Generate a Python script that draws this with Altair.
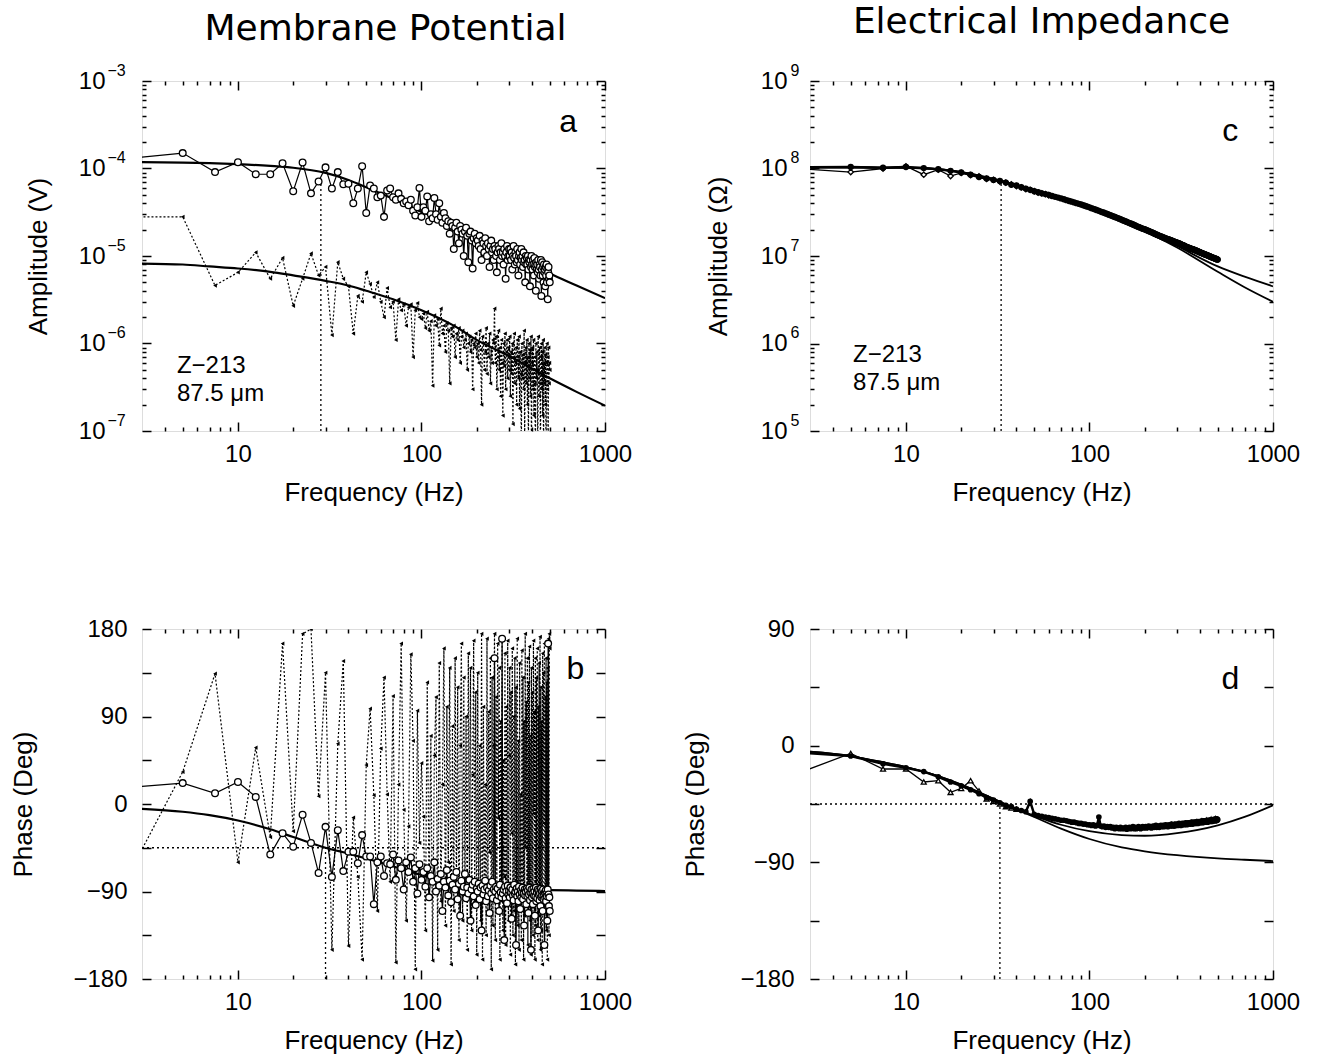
import altair as alt
import pandas as pd

FONT = "Liberation Sans"
TITLE_FONT = "DejaVu Sans"
W, H = 463, 350

# ---------------- data ----------------
freq = [2.5 * k for k in range(1, 201)]

amp_v_upper_uV = [
    130, 150, 91, 118, 86, 86, 115, 55, 117, 52,
    71, 103, 59, 91, 66, 67, 40, 59, 106, 31,
    64, 59, 47, 49, 28, 56, 59, 47, 44, 52,
    45, 40, 42, 38, 44, 33, 29, 36, 60, 28,
    36, 33, 48, 25, 30, 27, 46, 30, 26, 40,
    28, 24, 31, 27, 22, 25, 18, 24, 22, 12,
    21, 24, 19, 14, 22, 20, 18, 10, 19, 21,
    17, 8.5, 18, 19, 15, 7.2, 16, 18, 14, 16,
    15, 13, 17, 12, 9, 15, 14, 11, 16, 13,
    10, 14, 12, 7.5, 13, 15, 11, 12, 9, 13,
    12, 10, 6.5, 11, 13, 12, 9, 11, 14, 10,
    11, 8, 12, 10, 5.5, 11, 13, 9, 10, 12,
    10, 12, 9, 11, 7, 10, 13, 9.5, 8, 11,
    10, 8.5, 12, 9, 6, 10, 11, 8, 9.5, 12,
    9, 10, 7.5, 11, 8.5, 9, 5, 10, 8, 9.5,
    8, 10, 7, 9, 8.5, 4.5, 9, 7.5, 10, 8,
    7, 9, 8, 6, 9.5, 7.5, 8, 4, 8.5, 7,
    8, 6.5, 9, 7, 5.5, 8, 7.5, 6, 9, 3.5,
    7, 8.5, 6, 7.5, 5, 8, 6.5, 7, 4.5, 7.5,
    6, 8, 5, 7, 3.2, 6.5, 7.5, 5.5, 6, 5,
]

amp_v_lower_uV = [
    28, 28, 4.6, 6.5, 11, 5.5, 9.5, 2.7, 5.5, 10.7,
    6.0, 7.5, 1.25, 8.5, 5.5, 4.5, 1.3, 3.5, 3.0, 6.5,
    4.8, 3.4, 5.0, 3.0, 2.0, 4.3, 2.6, 3.0, 1.1, 3.2,
    2.4, 2.8, 1.6, 2.6, 2.8, 0.7, 2.4, 2.9, 2.0, 1.9,
    2.2, 1.5, 2.3, 1.4, 1.8, 0.33, 2.1, 1.6, 1.9, 0.95,
    2.5, 1.3, 1.6, 0.8, 1.7, 1.4, 0.35, 1.5, 1.2, 1.6,
    0.7, 1.3, 1.1, 1.5, 0.6, 1.2, 1.4, 0.9, 1.1, 1.3,
    0.5, 1.0, 1.2, 0.8, 1.1, 0.3, 1.0, 0.9, 1.3, 0.7,
    1.0, 0.6, 1.4, 0.85, 0.2, 1.2, 1.0, 0.5, 0.8, 1.5,
    0.45, 1.0, 0.7, 1.3, 0.35, 0.9, 0.6, 1.1, 1.0, 2.5,
    0.6, 1.2, 0.3, 0.7, 1.4, 0.5, 0.9, 0.25, 1.1, 0.6,
    0.15, 1.0, 0.55, 1.3, 0.3, 0.8, 1.1, 0.4, 0.9, 0.5,
    1.2, 0.25, 0.8, 0.45, 1.0, 0.12, 0.7, 1.3, 0.35, 0.6,
    0.9, 0.2, 1.1, 0.7, 0.4, 1.2, 0.18, 0.8, 0.45, 0.05,
    1.0, 0.4, 0.75, 0.3, 1.4, 0.08, 0.6, 0.9, 0.35, 1.1,
    0.2, 0.7, 0.06, 1.0, 0.4, 0.85, 0.25, 1.2, 0.04, 0.6,
    0.9, 0.3, 1.1, 0.15, 0.7, 0.35, 0.05, 1.0, 0.4, 0.8,
    0.5, 0.04, 1.2, 0.45, 0.25, 0.9, 0.35, 0.06, 0.7, 1.0,
    0.3, 0.8, 0.15, 1.1, 0.05, 0.6, 0.35, 0.9, 0.2, 0.75,
    0.03, 0.6, 1.0, 0.3, 0.7, 0.05, 0.9, 0.35, 0.6, 0.5,
]

phase_v_circ = [
    17, 21.5, 11, 22.6, 7.3, -52, -30, -44, -11, -40,
    -71, -23.5, -75, -27, -69, -49, -49, -61, -32, -54,
    -54, -103, -60, -54, -74, -61, -62, -52, -78, -58,
    -66, -88, -60, -70, -55, -80, -66, -92, -62, -78,
    -70, -85, -66, -96, -74, -80, -60, -90, -77, -84,
    -72, -110, -80, -86, -68, -94, -79, -101, -83, -75,
    -88, -70, -98, -82, -115, -79, -90, -85, -72, -97,
    -86, -92, -78, -120, -88, -83, -95, -80, -104, -87,
    -90, -82, -98, -86, -130, -84, -93, -88, -79, -100,
    -86, -95, -89, -112, -84, -92, -80, -97, -88, 150,
    -90, -85, -99, -87, -94, -110, -83, -91, -96, 170,
    -92, -88, -140, -85, -97, -90, -102, -84, -93, -89,
    -96, -86, -91, -118, -88, -94, -99, -83, -92, -90,
    -145, -87, -95, -90, -100, -85, -93, -108, -89, -96,
    -91, -86, -98, -92, -125, -88, -94, -90, -103, -87,
    -95, -89, -112, -93, -86, -99, -91, -150, -88, -96,
    -92, -103, -87, -94, -90, -115, -95, -86, -100, -91,
    -97, -88, -130, -93, -89, -99, -92, -105, -87, -96,
    -90, -94, -110, -88, -98, -93, -145, -91, -97, -89,
    -100, -92, -95, -120, -88, 165, -93, -105, -96, -110,
]

phase_v_tri = [
    -75, 33, 134, -60, 58, -34, 165, -28, 175, 180,
    8, 135, -150, 62, 147, -146, -14, -75, -160, 40,
    98, 9, -110, 57, 130, 10, -80, 111, -163, 20,
    165, -6, -120, -23, 154, 65, -170, 96, -40, 42,
    -13, -130, 125, -95, 70, -161, 50, 110, -150, 145,
    -100, 20, 160, -125, 100, -60, 140, -165, 80, -110,
    150, -90, 120, -140, 60, 165, -120, 130, -95, 90,
    -150, 155, -80, 140, -130, 30, 168, -100, 115, -155,
    135, -85, 60, -120, 175, -160, 100, -95, 20, -135,
    170, -110, 95, -50, 150, -170, 130, -125, 60, 175,
    -140, 110, -90, 165, -15, 140, -160, 85, -100, 172,
    -130, 45, -75, 155, -145, 100, -105, 168, -120, 50,
    140, -155, 115, -30, 160, -135, 90, -110, 150, -165,
    120, -80, 170, -125, 65, -150, 145, -100, 10, -140,
    158, -95, 130, -160, 85, -115, 175, -45, 105, -85,
    150, -145, 125, -105, 162, -120, 70, -155, 140, -95,
    115, -135, 168, -10, 95, -160, 150, -125, 130, -90,
    160, -140, 100, -115, 145, -100, 172, -150, 120, -130,
    85, -165, 155, -105, 135, -20, 165, -145, 110, -95,
    150, -130, 125, -160, 140, -110, 170, -135, 175, 160,
]

imp_amp_main_MOhm = [
    103, 104, 102, 104, 101, 98, 94, 90, 85, 80,
    77, 74, 72, 69, 65, 64, 61, 59, 57, 55,
    53.5, 52, 51, 50, 48.5, 47.5, 46.5, 45.5, 44.5, 43.5,
    42.5, 41.8, 41, 40.2, 39.5, 38.8, 38, 37.3, 36.6, 36,
    35.2, 34.6, 34.0, 33.4, 32.8, 32.2, 31.7, 31.2, 30.7, 30.2,
    29.7, 29.2, 28.8, 28.3, 27.9, 27.5, 27.1, 26.7, 26.3, 25.9,
    25.5, 25.2, 24.8, 24.5, 24.1, 23.8, 23.5, 23.2, 22.9, 22.6,
    22.3, 22.0, 21.7, 21.5, 21.2, 21.0, 20.7, 20.5, 20.3, 20.2,
    19.9, 19.7, 19.5, 19.3, 19.1, 18.9, 18.7, 18.5, 18.3, 18.1,
    17.9, 17.7, 17.5, 17.4, 17.2, 17.0, 16.9, 16.7, 16.6, 16.4,
    16.3, 16.2, 16.0, 15.9, 15.8, 15.7, 15.6, 15.5, 15.4, 15.3,
    15.2, 15.1, 14.9, 14.8, 14.7, 14.6, 14.5, 14.4, 14.3, 14.2,
    14.1, 14.0, 13.9, 13.8, 13.7, 13.6, 13.5, 13.4, 13.3, 13.2,
    13.1, 13.0, 12.9, 12.8, 12.7, 12.6, 12.55, 12.5, 12.4, 12.3,
    12.3, 12.2, 12.1, 12.05, 12.0, 11.95, 11.9, 11.8, 11.75, 11.7,
    11.6, 11.55, 11.5, 11.4, 11.35, 11.3, 11.2, 11.15, 11.1, 11.0,
    10.95, 10.9, 10.85, 10.8, 10.7, 10.65, 10.6, 10.55, 10.5, 10.45,
    10.4, 10.35, 10.3, 10.25, 10.2, 10.15, 10.1, 10.05, 10.0, 9.95,
    9.9, 9.85, 9.8, 9.75, 9.7, 9.65, 9.6, 9.55, 9.5, 9.5,
    9.45, 9.4, 9.35, 9.3, 9.3, 9.25, 9.2, 9.15, 9.1, 9.1,
]

imp_amp_low_MOhm = [
    100, 91, 100, 106, 85, 97, 82, 89, 84, 81,
    76, 74, 71, 69, 66, 63, 61, 58, 57, 55,
    53, 52, 51, 49.5,
]

imp_phase_main = [
    -5, -8, -14, -17, -20, -24, -28, -31, -34, -37,
    -40, -42, -44, -46, -47, -49, -50, -51, -43, -53,
    -54, -54.5, -55, -55.5, -56, -56.5, -57, -57.5, -57.5, -58,
    -58.5, -59, -59, -59.5, -60, -60, -60.5, -60.5, -61, -61,
    -61.5, -61, -62, -61.5, -55, -62, -62.5, -62, -63, -62.5,
    -63, -62.5, -63.5, -63, -64, -63, -63.5, -64, -63, -64,
    -63.5, -64, -63, -64.5, -63.5, -63, -64, -63.5, -62.5, -64,
    -63, -64, -63.5, -62.5, -63.5, -64, -63, -62.5, -63.5, -63,
    -62.5, -63.5, -63, -62, -63, -62.5, -63.5, -62.5, -62, -63,
    -62.5, -61.5, -63, -62.5, -62, -63, -62, -61.5, -62.5, -62,
    -61.5, -62.5, -62, -61, -62, -61.5, -62.5, -61.5, -61, -62,
    -61.5, -60.5, -62, -61.5, -61, -62, -60.5, -61.5, -61, -60.5,
    -61.5, -61, -60, -61, -60.5, -61.5, -60.5, -60, -61, -60.5,
    -60, -61, -60.5, -59.5, -60.5, -61, -60, -59.5, -60.5, -60,
    -59.5, -60.5, -60, -59, -60, -60.5, -59.5, -59, -60, -59.5,
    -59, -60, -59.5, -58.5, -59.5, -60, -59, -58.5, -59.5, -59,
    -58.5, -59.5, -59, -58, -59, -59.5, -58.5, -58, -59, -58.5,
    -58, -59, -58.5, -57.5, -58.5, -59, -58, -57.5, -58.5, -58,
    -57.5, -58.5, -58, -57, -58, -58.5, -57.5, -57, -58, -57.5,
    -57, -58, -57.5, -56.5, -57.5, -58, -57, -56.5, -57.5, -57,
]

imp_phase_low = [
    -22, -6, -18, -18, -28, -27, -36, -33, -27, -35,
    -41, -43, -45, -47, -48, -49,
]

fit_freq = [3, 5, 7, 10, 15, 20, 30, 40, 50, 70, 100, 150, 200, 300, 500, 700, 1000]
fit_a_upper_uV = [118, 117, 115, 112, 107, 102, 89, 74, 61, 45, 32, 22.5, 16.5, 10.8, 6.3, 4.6, 3.3]
fit_a_lower_uV = [8.2, 8.0, 7.6, 7.2, 6.6, 6.0, 5.2, 4.6, 4.0, 3.2, 2.4, 1.6, 1.1, 0.72, 0.40, 0.28, 0.195]
fit_b = [-5, -8, -11.5, -17, -26, -34, -45, -51, -56, -64, -73, -81, -84.5, -87, -88.5, -89, -89.5]
fit_c1_MOhm = [103, 103, 102.5, 102, 98, 91, 76, 65, 56, 45, 35, 25.5, 19.8, 13.0, 7.6, 5.8, 4.5]
fit_c2_MOhm = [103, 103, 102.5, 102, 98, 91, 76, 65, 56, 45, 35, 25.3, 19.4, 12.5, 6.6, 4.4, 3.0]
fit_d1 = [-4.6, -8, -12, -16.5, -23.5, -30, -41, -49, -54, -61, -66, -69, -69.5, -67.5, -61.5, -55, -46]
fit_d2 = [-4.6, -8, -12, -16.5, -23.5, -30, -41, -49, -55, -64, -72, -78.5, -81.5, -84.5, -87, -88, -89]

cutoff_freq = {"a": 28.3, "b": 30.0, "c": 33.0, "d": 32.5}
cutoff_top = {"a": 8.0e-5, "c": 7.2e7}
half_phase = -45

panel_titles = ["Membrane Potential", "Electrical Impedance"]
cell_label = ["Z−213", "87.5 μm"]
panel_letters = ["a", "b", "c", "d"]

x_major = [10, 100, 1000]
x_minor = [4, 5, 6, 7, 8, 9, 20, 30, 40, 50, 60, 70, 80, 90, 200, 300, 400, 500, 600, 700, 800, 900]

# ---------------- helpers ----------------
XSC = alt.Scale(type="log", domain=[3, 1000], nice=False)
MAJ, MIN = 9, 4
TICK_FS = 24


def log_minor(lo_exp, hi_exp):
    out = []
    for e in range(lo_exp, hi_exp):
        for m in range(2, 10):
            out.append(m * 10.0 ** e)
    return out


def tick_axis(orient, values, size):
    return alt.Axis(orient=orient, values=values, tickSize=size, offset=-size, labels=False,
                    title=None, domain=False, grid=False, tickColor="black", tickWidth=1.5)


def label_axis(orient, values, size, title, lp, expr, tp):
    return alt.Axis(orient=orient, values=values, tickSize=size, offset=-size, labels=True,
                    labelExpr=expr, labelPadding=lp, labelFont=FONT, labelFontSize=TICK_FS,
                    labelColor="black", labelFlush=False, labelOverlap=False,
                    title=title, titleFont=FONT, titleFontSize=26, titleFontWeight="normal",
                    titleColor="black", titlePadding=tp,
                    domain=False, grid=False, tickColor="black", tickWidth=1.5)


def exp_expr(exps):
    parts = ["abs(log(datum.value)/LN10 - (%d)) < 0.01 ? '%s'" % (e, str(e).replace("-", "−"))
             for e in exps]
    return " : ".join(parts) + " : ''"


def axis_layers(ysc, ylog, yvals, ytitle, lp10, lpexp, ytp, exps=None):
    dom = ysc.domain
    df = pd.DataFrame({"f": [3, 1000], "v": [dom[0], dom[1]]})
    base = alt.Chart(df).mark_line(opacity=0)
    x_bot = label_axis("bottom", x_major, MAJ, "Frequency (Hz)", 11, "format(datum.value, 'd')", 13)
    if ylog:
        y_left = label_axis("left", yvals, MAJ, ytitle, lp10, "'10'", ytp)
        y_left_min = tick_axis("left", log_minor(exps[0], exps[-1]), MIN)
        y_right_min = tick_axis("right", log_minor(exps[0], exps[-1]), MIN)
    else:
        y_left = label_axis("left", yvals, MAJ, ytitle, lp10,
                            "datum.value % 90 == 0 ? format(datum.value, 'd') : ''", ytp)
        y_left_min = None
        y_right_min = None
    layers = [
        base.encode(x=alt.X("f:Q", scale=XSC, axis=x_bot), y=alt.Y("v:Q", scale=ysc, axis=y_left)),
        base.encode(x=alt.X("f:Q", scale=XSC, axis=tick_axis("bottom", x_minor, MIN)),
                    y=alt.Y("v:Q", scale=ysc, axis=y_left_min)),
        base.encode(x=alt.X("f:Q", scale=XSC, axis=tick_axis("top", x_major, MAJ)),
                    y=alt.Y("v:Q", scale=ysc, axis=tick_axis("right", yvals, MAJ))),
        base.encode(x=alt.X("f:Q", scale=XSC, axis=tick_axis("top", x_minor, MIN)),
                    y=alt.Y("v:Q", scale=ysc, axis=y_right_min)),
    ]
    if ylog:
        exp_axis = alt.Axis(orient="left", values=yvals, ticks=False, tickSize=0, labels=True,
                            labelExpr=exp_expr(exps), labelAlign="left", labelPadding=lpexp,
                            labelOffset=-11, labelFont=FONT, labelFontSize=16, labelColor="black",
                            labelFlush=False, labelOverlap=False, title=None, domain=False, grid=False)
        layers.append(base.encode(x=alt.X("f:Q", scale=XSC, axis=None),
                                  y=alt.Y("v:Q", scale=ysc, axis=exp_axis)))
    return layers


def enc(chart, ysc, xf="f", yf="v"):
    return chart.encode(x=alt.X(f"{xf}:Q", scale=XSC, axis=None),
                        y=alt.Y(f"{yf}:Q", scale=ysc, axis=None))


def series_df(vals, scale=1.0, fr=None):
    fr = fr if fr is not None else freq[:len(vals)]
    return pd.DataFrame({"f": fr, "v": [x * scale for x in vals]})


def line(df, ysc, width=1.2, dash=None):
    kw = dict(color="black", strokeWidth=width, clip=True)
    if dash:
        kw["strokeDash"] = dash
    return enc(alt.Chart(df).mark_line(**kw), ysc)


def fit_line(vals, ysc, scale=1.0, width=2.2):
    df = pd.DataFrame({"f": fit_freq, "v": [x * scale for x in vals]})
    return enc(alt.Chart(df).mark_line(color="black", strokeWidth=width, clip=True,
                                       interpolate="monotone"), ysc)


def pts(df, ysc, shape, size, filled_black):
    if filled_black:
        m = alt.Chart(df).mark_point(shape=shape, size=size, filled=True, color="black",
                                     opacity=1, clip=True)
    else:
        m = alt.Chart(df).mark_point(shape=shape, size=size, filled=True, fill="white",
                                     stroke="black", strokeWidth=1.3, opacity=1, clip=True)
    return enc(m, ysc)


def vrule(f, y0, y1, ysc):
    df = pd.DataFrame({"f": [f], "v": [y0], "v2": [y1]})
    return alt.Chart(df).mark_rule(color="black", strokeWidth=1.3, strokeDash=[2, 3]).encode(
        x=alt.X("f:Q", scale=XSC, axis=None), y=alt.Y("v:Q", scale=ysc, axis=None), y2="v2:Q")


def hrule(v, ysc):
    df = pd.DataFrame({"f": [3], "f2": [1000], "v": [v]})
    return alt.Chart(df).mark_rule(color="black", strokeWidth=1.3, strokeDash=[2, 3]).encode(
        x=alt.X("f:Q", scale=XSC, axis=None), x2="f2:Q", y=alt.Y("v:Q", scale=ysc, axis=None))


def text(fs, vs, ts, ysc, size, align="left"):
    df = pd.DataFrame({"f": fs, "v": vs, "t": ts})
    return alt.Chart(df).mark_text(font=FONT, fontSize=size, align=align, baseline="middle",
                                   color="black").encode(
        x=alt.X("f:Q", scale=XSC, axis=None), y=alt.Y("v:Q", scale=ysc, axis=None), text="t:N")


def title(t, dx, off):
    return alt.TitleParams(t, font=TITLE_FONT, fontSize=36, fontWeight="normal", anchor="middle",
                           dx=dx, offset=off, baseline="alphabetic", color="black")


# ---------------- panel a ----------------
YA = alt.Scale(type="log", domain=[1e-7, 1e-3], nice=False)
a_up = series_df(amp_v_upper_uV, 1e-6)
a_lo = series_df(amp_v_lower_uV, 1e-6)
pa = alt.layer(
    *axis_layers(YA, True, [1e-7, 1e-6, 1e-5, 1e-4, 1e-3], "Amplitude (V)", 37, 35, 27,
                 [-7, -6, -5, -4, -3]),
    vrule(cutoff_freq["a"], 1e-7, cutoff_top["a"], YA),
    fit_line(fit_a_upper_uV, YA, 1e-6),
    fit_line(fit_a_lower_uV, YA, 1e-6),
    line(a_lo, YA, 1.2, [2, 2]),
    pts(a_lo, YA, "triangle-left", 18, True),
    line(a_up, YA, 1.2),
    pts(a_up, YA, "circle", 45, False),
    text([4.65, 4.65], [5.6e-7, 2.65e-7], cell_label, YA, 24),
    text([630], [3.4e-4], [panel_letters[0]], YA, 32, "center"),
).resolve_axis(x="independent", y="independent").properties(
    width=W, height=H, title=title(panel_titles[0], 12, -14))

# ---------------- panel b ----------------
YB = alt.Scale(type="linear", domain=[-180, 180], nice=False, zero=False)
b_c = series_df(phase_v_circ)
b_t = series_df(phase_v_tri)
pb = alt.layer(
    *axis_layers(YB, False, list(range(-180, 181, 45)), "Phase (Deg)", 15, 0, 36),
    hrule(half_phase, YB),
    vrule(cutoff_freq["b"], -180, half_phase, YB),
    line(b_t, YB, 1.2, [2, 2]),
    pts(b_t, YB, "triangle-left", 18, True),
    fit_line(fit_b, YB),
    line(b_c, YB, 1.2),
    pts(b_c, YB, "circle", 45, False),
    text([690], [139], [panel_letters[1]], YB, 32, "center"),
).resolve_axis(x="independent", y="independent").properties(width=W, height=H)

# ---------------- panel c ----------------
YC = alt.Scale(type="log", domain=[1e5, 1e9], nice=False)
c_m = series_df(imp_amp_main_MOhm, 1e6)
c_l = series_df(imp_amp_low_MOhm, 1e6)
pc = alt.layer(
    *axis_layers(YC, True, [1e5, 1e6, 1e7, 1e8, 1e9], "Amplitude (Ω)", 23, 20, 29, [5, 6, 7, 8, 9]),
    vrule(cutoff_freq["c"], 1e5, cutoff_top["c"], YC),
    fit_line(fit_c1_MOhm, YC, 1e6, 1.8),
    fit_line(fit_c2_MOhm, YC, 1e6, 1.8),
    line(c_l, YC, 1.3),
    pts(c_l, YC, "diamond", 30, False),
    line(c_m, YC, 2.5),
    pts(c_m, YC, "circle", 40, True),
    text([5.15, 5.15], [7.4e5, 3.55e5], cell_label, YC, 24),
    text([585], [2.7e8], [panel_letters[2]], YC, 32, "center"),
).resolve_axis(x="independent", y="independent").properties(
    width=W, height=H, title=title(panel_titles[1], 0, -7))

# ---------------- panel d ----------------
YD = alt.Scale(type="linear", domain=[-180, 90], nice=False, zero=False)
d_m = series_df(imp_phase_main)
d_l = series_df(imp_phase_low)
pd_ = alt.layer(
    *axis_layers(YD, False, list(range(-180, 91, 45)), "Phase (Deg)", 16, 0, 31),
    hrule(half_phase, YD),
    vrule(cutoff_freq["d"], -180, half_phase, YD),
    fit_line(fit_d1, YD, 1.0, 1.8),
    fit_line(fit_d2, YD, 1.0, 1.8),
    line(d_l, YD, 1.3),
    pts(d_l, YD, "triangle-up", 25, False),
    line(d_m, YD, 2.5),
    pts(d_m, YD, "circle", 32, True),
    text([585], [51.5], [panel_letters[3]], YD, 32, "center"),
).resolve_axis(x="independent", y="independent").properties(width=W, height=H)

chart = alt.concat(pa, pc, pb, pd_, columns=2, spacing={"row": 198, "column": 205},
                   bounds="flush").properties(
    padding={"left": 10, "top": 3, "right": 5, "bottom": 5}
).configure_view(stroke="black", strokeWidth=2).configure(background="white")

chart.save("out.html", embed_options={"renderer": "svg", "actions": False})
